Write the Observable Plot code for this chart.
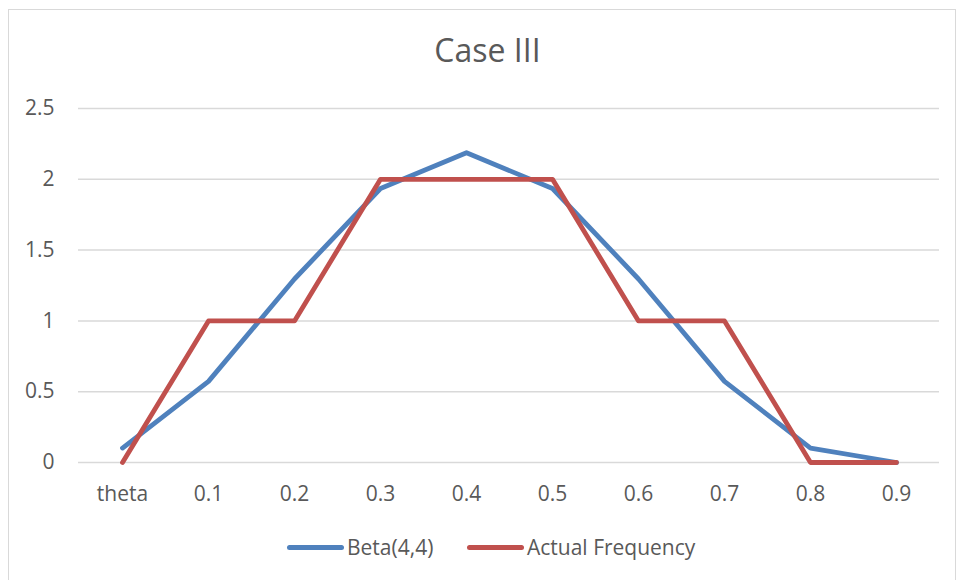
<!DOCTYPE html>
<html>
<head>
<meta charset="utf-8">
<script src="https://cdn.jsdelivr.net/npm/d3@7"></script>
<script src="https://cdn.jsdelivr.net/npm/@observablehq/plot@0.6"></script>
<style>
  html, body { margin: 0; padding: 0; background: #fff; }
  #wrap { position: relative; width: 958px; height: 580px; overflow: hidden; font-family: "Open Sans", sans-serif; color: #595959; }
  #frame { position: absolute; left: 8px; top: 9px; width: 948px; height: 600px; border: 1.5px solid #d9d9d9; box-sizing: border-box; }
  #title { position: absolute; left: 0; width: 975px; top: 28px; text-align: center; font-size: 32px; line-height: 44px; color: #595959; }
  #chart { position: absolute; left: 0; top: 0; }
  #legend { position: absolute; left: 0; top: 532px; width: 958px; height: 30px; font-size: 21px; line-height: 30px; }
  .sw { display: inline-block; width: 57px; height: 5px; border-radius: 3px; margin-right: 3px; }
  .item { position: absolute; top: 0; display: flex; align-items: center; white-space: nowrap; }
</style>
</head>
<body>
<div id="wrap">
  <div id="frame"></div>
  <div id="title">Case III</div>
  <div id="chart"></div>
  <div id="legend"></div>
</div>
<script>
const categories = ["theta", "0.1", "0.2", "0.3", "0.4", "0.5", "0.6", "0.7", "0.8", "0.9"];
const betaValues = [0.102, 0.573, 1.296, 1.935, 2.1875, 1.935, 1.296, 0.573, 0.102, 0];
const actualValues = [0, 1, 1, 2, 2, 2, 1, 1, 0, 0];
const yTicks = [0, 0.5, 1, 1.5, 2, 2.5];
const yTickLabels = ["0", "0.5", "1", "1.5", "2", "2.5"];
const seriesNames = ["Beta(4,4)", "Actual Frequency"];
const seriesColors = ["#4f81bd", "#c0504d"];

const data = [];
categories.forEach((c, i) => {
  data.push({cat: c, value: betaValues[i], series: seriesNames[0]});
});
categories.forEach((c, i) => {
  data.push({cat: c, value: actualValues[i], series: seriesNames[1]});
});

const plot = Plot.plot({
  width: 958,
  height: 520,
  marginTop: 108,
  marginBottom: 58,
  marginLeft: 78,
  marginRight: 19,
  style: {fontFamily: '"Open Sans", sans-serif', fontSize: "21px", color: "#595959", background: "transparent", overflow: "visible"},
  x: {type: "point", domain: categories, padding: 0.5, label: null},
  y: {domain: [0, 2.5], label: null},
  color: {domain: seriesNames, range: seriesColors},
  marks: [
    Plot.ruleY(yTicks, {stroke: "#d9d9d9", strokeWidth: 1.5, strokeOpacity: 1}),
    Plot.axisX({tickSize: 0, tickPadding: 24, label: null, fill: "#595959", fontSize: 21}),
    Plot.axisY({ticks: yTicks, tickFormat: (d) => yTickLabels[yTicks.indexOf(d)], tickSize: 0, tickPadding: 24, label: null, fill: "#595959", fontSize: 21}),
    Plot.line(data, {x: "cat", y: "value", z: "series", stroke: "series", strokeWidth: 4.8, strokeLinecap: "round", strokeLinejoin: "round"})
  ]
});
document.getElementById("chart").appendChild(plot);

const legend = document.getElementById("legend");
const legendLeft = [287, 467];
seriesNames.forEach((n, i) => {
  const item = document.createElement("div");
  item.className = "item";
  item.style.left = legendLeft[i] + "px";
  const sw = document.createElement("span");
  sw.className = "sw";
  sw.style.background = seriesColors[i];
  const t = document.createElement("span");
  t.textContent = n;
  item.appendChild(sw);
  item.appendChild(t);
  legend.appendChild(item);
});
</script>
</body>
</html>
